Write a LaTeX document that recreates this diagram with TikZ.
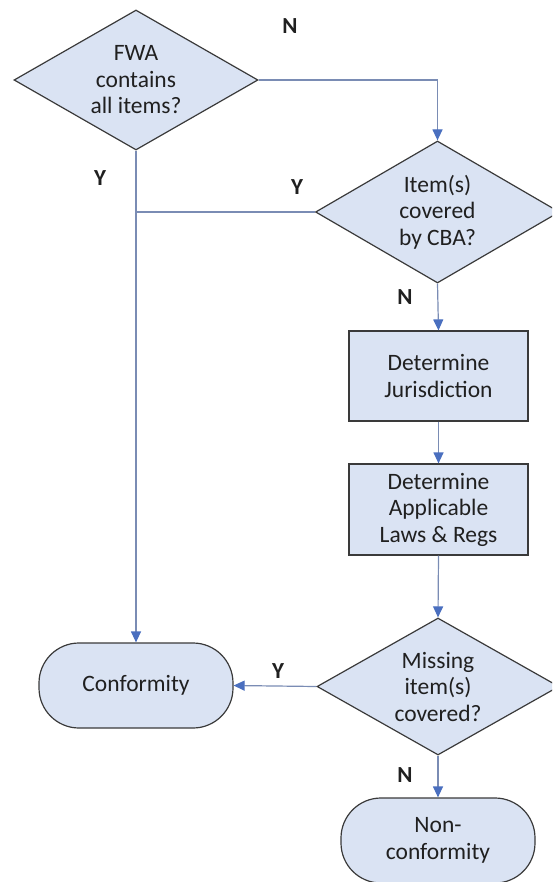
\documentclass[tikz,border=0pt]{standalone}
\usepackage{fontspec}
\setmainfont{Carlito}
\usetikzlibrary{shapes.geometric,arrows.meta}
\definecolor{boxfill}{HTML}{DAE3F3}
\definecolor{boxline}{HTML}{3A3A3A}
\definecolor{linkline}{HTML}{7A8CB4}
\definecolor{tipblue}{HTML}{4A6FBF}
\definecolor{txt}{HTML}{202020}
\tikzset{
  base/.style={draw=boxline, fill=boxfill, line width=1.2pt, text=txt, align=center,
    font=\fontsize{23.5}{26.5}\selectfont, inner sep=0pt},
  decision/.style={base, diamond, aspect=1.74},
  process/.style={base, rectangle},
  terminal/.style={base, rectangle, rounded corners=40pt},
  link/.style={draw=linkline, line width=1.2pt},
  arrow/.style={link, -{Triangle[length=11pt,width=10pt,color=tipblue]}},
  lbl/.style={font=\fontsize{23}{24}\selectfont\bfseries, text=txt, inner sep=0pt}
}
\begin{document}
\begin{tikzpicture}[x=1pt,y=-1pt]
\useasboundingbox (0,0) rectangle (552,882);
\clip (0,0) rectangle (552,882);
\node[decision, minimum width=244pt, minimum height=140pt] (d1) at (136,80) {FWA\\contains\\all items?};
\node[decision, minimum width=244pt, minimum height=142pt] (d2) at (437.5,212) {Item(s)\\covered\\by CBA?};
\node[process, minimum width=179pt, minimum height=90pt] (b1) at (438.5,376) {Determine\\Jurisdiction};
\node[process, minimum width=179pt, minimum height=91pt] (b2) at (438.5,509.5) {Determine\\Applicable\\Laws \& Regs};
\node[decision, minimum width=242pt, minimum height=137pt] (d3) at (438,686.5) {Missing\\item(s)\\covered?};
\node[terminal, minimum width=194pt, minimum height=85pt] (c1) at (136,685.5) {Conformity};
\node[terminal, minimum width=194pt, minimum height=85pt] (c2) at (438,840.5) {Non-\\conformity};
\coordinate (j1) at (d1.south |- d2.west);
\coordinate (k1) at (d2.north |- d1.east);
\draw[arrow] (d1.east) -- (k1) -- (d2.north);
\draw[arrow] (d1.south) -- (c1.north);
\draw[link] (d2.west) -- (j1);
\draw[arrow] (d2.south) -- (b1.north);
\draw[arrow] (b1.south) -- (b2.north);
\draw[arrow] (b2.south) -- (d3.north);
\draw[arrow] (d3.west) -- (c1.east);
\draw[arrow] (d3.south) -- (c2.north);
\node[lbl] (n1) at (290,26) {N};
\node[lbl] (y1) at (100,178) {Y};
\node[lbl] (y2) at (297,187) {Y};
\node[lbl] (n2) at (405,297) {N};
\node[lbl] (y3) at (278,671) {Y};
\node[lbl] (n3) at (405,775) {N};
\end{tikzpicture}
\end{document}
